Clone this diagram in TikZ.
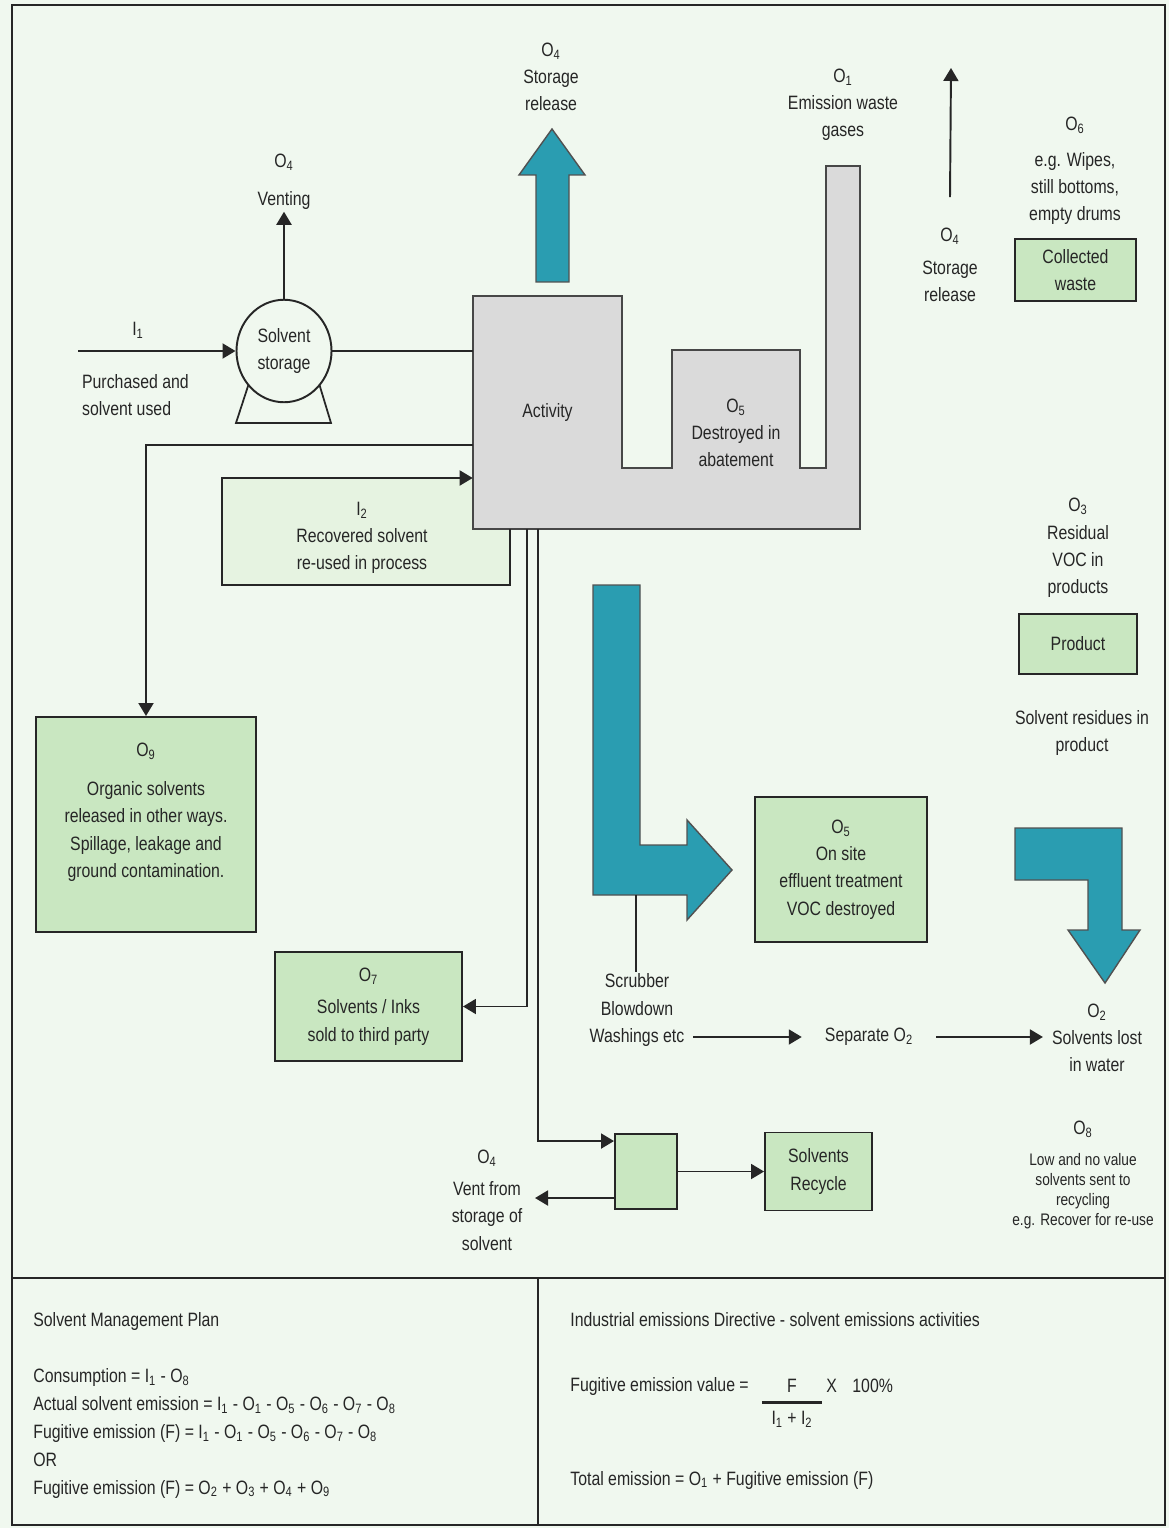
\documentclass[tikz,border=0pt]{standalone}
\usepackage{fontspec}
\setmainfont{Liberation Sans}[FakeStretch=0.82]
\usepackage{xcolor}
\usepackage{tikz}
\usetikzlibrary{positioning,arrows.meta,shapes.geometric,calc}
\definecolor{fondo}{HTML}{F0F8EF}
\definecolor{verdecaja}{HTML}{C9E7C1}
\definecolor{verdesuave}{HTML}{E6F3E1}
\definecolor{turquesa}{HTML}{2A9DB1}
\definecolor{gris}{HTML}{DADADA}
\definecolor{trazo}{HTML}{262626}
\newcommand{\Osub}[1]{O\textsubscript{#1}}
\newcommand{\Isub}[1]{I\textsubscript{#1}}

\begin{document}
\begin{tikzpicture}[
  x=0.2mm, y=-0.2mm,
  font=\fontsize{11}{15.5}\selectfont,
  text=trazo,
  caja/.style={draw=trazo, line width=1.1pt, fill=verdecaja, align=center, inner sep=2pt},
  flecha/.style={-{Triangle[length=2.6mm,width=3mm]}, line width=1.1pt, draw=trazo},
  linea/.style={line width=1.1pt, draw=trazo},
  etiq/.style={align=center, inner sep=1pt},
  gruesa/.style={fill=turquesa, draw=trazo!80, line width=0.8pt},
  chica/.style={font=\fontsize{9.5}{11.4}\selectfont}
]
  \fill[fondo] (0,0) rectangle (1169,1528);
  \useasboundingbox (0,0) rectangle (1169,1528);
  \draw[line width=1.4pt, trazo] (12,5) rectangle (1165,1525);
  \draw[line width=1.4pt, trazo] (12,1278) -- (1165,1278);
  \draw[line width=1.4pt, trazo] (538,1278) -- (538,1525);

  % fondo del lazo I2
  \coordinate (i2esq) at (222,585);
  \fill[verdesuave] (i2esq) rectangle (510,478);

  % actividad y lavador
  \draw[fill=gris, draw=trazo!85, line width=1.2pt] (473,296) -- (622,296) -- (622,468) -- (672,468)
        -- (672,350) -- (800,350) -- (800,468) -- (826,468) -- (826,166) -- (860,166) -- (860,529)
        -- (473,529) -- cycle;
  \node[etiq, minimum width=29.8mm, minimum height=46.6mm] (act) at (547.5,412.5) {Activity};
  \node[etiq] (abat) at (736,433) {\Osub{5}\\Destroyed in\\abatement};

  % flechas gruesas
  \draw[gruesa] (536,282) -- (569,282) -- (569,175) -- (585,175) -- (552,129) -- (519,175) -- (536,175) -- cycle;
  \draw[gruesa] (593,585) -- (640,585) -- (640,845) -- (687,845) -- (687,820) -- (732,870) -- (687,920)
        -- (687,895) -- (593,895) -- cycle;
  \draw[gruesa] (1015,828) -- (1122,828) -- (1122,930) -- (1140,930) -- (1105,983) -- (1068,930)
        -- (1088,930) -- (1088,880) -- (1015,880) -- cycle;
  \coordinate (lbase) at (636,895);

  % almacenamiento
  \draw[linea, line width=1pt] (250,380) -- (236,423) -- (331,423) -- (318,380);
  \node[ellipse, draw=trazo, line width=1.1pt, fill=fondo, align=center, inner sep=0pt,
        minimum width=19mm, minimum height=20.5mm] (stor) at (284,351) {Solvent\\storage};
  \node[etiq] (venteo) at (284,182) {\Osub{4}\\[6pt]Venting};
  \draw[flecha] (stor.north) -- (venteo.south);
  \coordinate (i1ini) at (78,351);
  \draw[flecha] (i1ini) -- (stor.west);
  \node[etiq] (i1lab) at (138,330) {\Isub{1}};
  \node[etiq, align=left, anchor=west] (compra) at (80,395) {Purchased and\\solvent used};
  \draw[linea] (stor.east) -- (stor.east -| act.west);

  % etiquetas superiores
  \node[etiq] (alm1) at (551,77) {\Osub{4}\\Storage\\release};
  \node[etiq] (emis) at (843,105) {\Osub{1}\\Emission waste\\gases};
  \node[etiq] (alm2) at (950,265) {\Osub{4}\\[3pt]Storage\\release};
  \coordinate (alm2tip) at (951,68);
  \draw[flecha] ([yshift=5.8mm]alm2.north) -- (alm2tip);
  \node[etiq] (o6) at (1075,171) {\Osub{6}\\[4.5pt]e.g. Wipes,\\still bottoms,\\empty drums};
  \node[caja, minimum width=24.2mm, minimum height=12.4mm] (resid) at (1075.5,270) {Collected\\waste};
  \node[etiq] (o3) at (1078,548) {\Osub{3}\\Residual\\VOC in\\products};
  \node[caja, minimum width=23.6mm, minimum height=12mm] (prod) at (1078,644) {Product};
  \node[etiq] (resprod) at (1082,733) {Solvent residues in\\product};

  % recuperado I2
  \draw[flecha] ($(act.south west)+(37,0)$) |- (i2esq) |- ($(act.west)+(0,65.5)$);
  \node[etiq] (i2lab) at (362,538) {\Isub{2}\\Recovered solvent\\re-used in process};

  % O9
  \node[caja, minimum width=44mm, minimum height=43mm] (o9) at (146,824.5) {};
  \node[etiq] (o9txt) at (146,812) {\Osub{9}\\[7pt]Organic solvents\\released in other ways.\\Spillage, leakage and\\ground contamination.};
  \draw[flecha] ($(act.west)+(0,32.5)$) -| (o9.north);

  % O7
  \node[caja, minimum width=37.4mm, minimum height=21.8mm] (o7) at (368.5,1006.5) {\Osub{7}\\[3pt]Solvents / Inks\\sold to third party};
  \draw[flecha] ($(act.south west)+(54,0)$) |- (o7.east);

  % O5 efluente
  \node[caja, minimum width=34.4mm, minimum height=29mm] (o5) at (841,869.5) {\Osub{5}\\On site\\effluent treatment\\VOC destroyed};

  % lavado y separacion
  \node[etiq] (scrub) at (637,1010) {Scrubber\\Blowdown\\Washings etc};
  \draw[linea] (lbase) -- (lbase |- scrub.north);
  \node[etiq] (sepa) at (869,1037) {Separate \Osub{2}};
  \node[etiq] (o2) at (1097,1038) {\Osub{2}\\Solvents lost\\in water};
  \draw[flecha, shorten <=4pt, shorten >=12pt] (scrub.east |- sepa) -- (sepa.west);
  \draw[flecha, shorten <=12pt, shorten >=4pt] (sepa.east) -- (o2.west |- sepa);

  % reciclado
  \node[caja, minimum width=12.4mm, minimum height=15mm] (cubo) at (646,1171.5) {};
  \node[caja, minimum width=21.4mm, minimum height=15.6mm] (recic) at (818.5,1171.5) {Solvents\\Recycle};
  \draw[flecha] ($(act.south west)+(65,0)$) |- ($(cubo.north west)+(0,8)$);
  \draw[flecha] (cubo.east) -- (recic.west);
  \node[etiq] (ventalm) at (487,1200) {\Osub{4}\\[3pt]Vent from\\storage of\\solvent};
  \coordinate (ventfin) at (535,1198);
  \draw[flecha] (cubo.west |- ventfin) -- (ventfin);
  \node[etiq] (o8) at (1083,1175) {\Osub{8}\\[2pt]{\fontsize{9.5}{11.4}\selectfont Low and no value}\\[-4pt]
        {\fontsize{9.5}{11.4}\selectfont solvents sent to}\\[-4pt]{\fontsize{9.5}{11.4}\selectfont recycling}\\[-4pt]
        {\fontsize{9.5}{11.4}\selectfont e.g. Recover for re-use}};

  % formulas
  \node[anchor=north west, align=left, inner sep=0pt, font=\fontsize{11}{15.9}\selectfont] (plan) at (33,1312)
        {Solvent Management Plan\\[15.9pt]
         Consumption = \Isub{1} - \Osub{8}\\
         Actual solvent emission = \Isub{1} - \Osub{1} - \Osub{5} - \Osub{6} - \Osub{7} - \Osub{8}\\
         Fugitive emission (F) = \Isub{1} - \Osub{1} - \Osub{5} - \Osub{6} - \Osub{7} - \Osub{8}\\
         OR\\
         Fugitive emission (F) = \Osub{2} + \Osub{3} + \Osub{4} + \Osub{9}};
  \node[anchor=north west, inner sep=0pt] (dir) at (570,1312) {Industrial emissions Directive - solvent emissions activities};
  \node[anchor=west, inner sep=0pt] (fev) at (570,1386) {Fugitive emission value =};
  \node[inner sep=1pt] (fnum) at (792,1386) {F};
  \node[anchor=west, inner sep=0pt] (fpor) at (826,1386) {X\hspace{0.8em}100\%};
  \node[inner sep=1pt] (fden) at (792,1419) {\Isub{1} + \Isub{2}};
  \draw[line width=1.5pt, trazo] ([xshift=-1.5mm, yshift=1.2mm]fden.north west) -- ([xshift=1.5mm, yshift=1.2mm]fden.north east);
  \node[anchor=west, inner sep=0pt] (total) at (570,1480) {Total emission = \Osub{1} + Fugitive emission (F)};
\end{tikzpicture}
\end{document}
